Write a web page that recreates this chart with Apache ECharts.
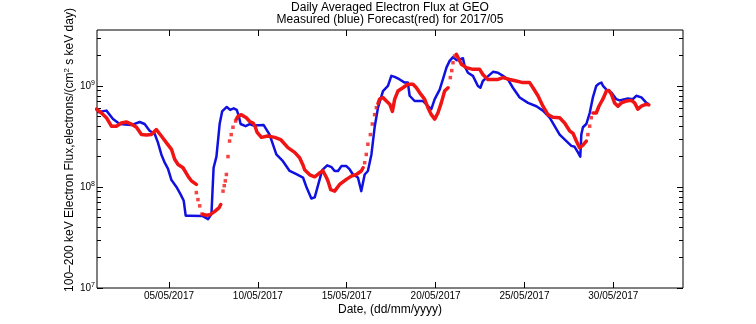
<!DOCTYPE html>
<html><head><meta charset="utf-8">
<script src="https://cdn.jsdelivr.net/npm/echarts@6/dist/echarts.min.js"></script>
<style>html,body{margin:0;padding:0;background:#fff}#c{width:756px;height:324px}</style>
</head><body><div id="c"></div>
<script>
// ---- data (day of May 2017, flux in electrons/(cm2 s keV day)) ----
const blueDays = [0.95,1.48,1.85,2.23,2.88,3.35,3.63,3.91,4.20,4.38,4.57,4.76,4.94,5.14,5.42,5.66,5.83,5.94,6.16,6.90,7.20,7.39,7.51,7.67,7.85,7.99,8.25,8.44,8.64,8.81,8.92,9.03,9.31,9.54,9.76,10.33,10.66,11.04,11.41,11.79,12.17,12.54,12.75,13.01,13.20,13.38,13.62,13.90,14.15,14.32,14.51,14.70,14.98,15.17,15.35,15.63,15.82,16.01,16.19,16.39,16.57,16.76,17.04,17.32,17.51,17.70,17.98,18.26,18.44,18.54,18.82,19.29,19.57,19.76,19.95,20.23,20.41,20.61,20.79,20.98,21.18,21.35,21.54,21.63,21.82,22.10,22.38,22.52,22.66,22.86,23.23,23.51,23.79,24.07,24.35,24.73,25.20,25.67,26.04,26.42,26.70,26.98,27.36,27.64,27.82,28.01,28.14,28.20,28.29,28.48,28.67,28.85,29.04,29.17,29.33,29.42,29.61,29.89,30.17,30.35,30.64,30.82,31.10,31.29,31.58,31.86,31.99];
const blueFlux = [5.5e8,5.7e8,4.7e8,4.2e8,4.1e8,4.4e8,4.2e8,3.6e8,3.35e8,2.75e8,2.1e8,1.74e8,1.52e8,1.17e8,1.0e8,8.4e7,7.3e7,5.2e7,5.2e7,5.15e7,4.8e7,5.4e7,1.55e8,2.0e8,4.2e8,5.6e8,6.2e8,5.8e8,6.0e8,5.8e8,5.1e8,4.2e8,4.0e8,4.2e8,4.05e8,4.1e8,3.3e8,2.1e8,1.8e8,1.44e8,1.34e8,1.24e8,9.8e7,7.7e7,7.9e7,1.03e8,1.47e8,1.64e8,1.57e8,1.44e8,1.44e8,1.61e8,1.61e8,1.49e8,1.33e8,1.24e8,9.1e7,1.33e8,1.44e8,2.1e8,3.9e8,6.1e8,8.9e8,1.0e9,1.26e9,1.23e9,1.16e9,1.08e9,1.08e9,8.0e8,7.1e8,7.1e8,6.3e8,5.9e8,7.4e8,9.2e8,1.16e9,1.52e9,1.77e9,1.93e9,1.80e9,1.83e9,1.88e9,1.58e9,1.35e9,1.26e9,1.0e9,9.6e8,1.12e9,1.21e9,1.38e9,1.35e9,1.26e9,1.16e9,9.6e8,7.7e8,6.8e8,6.3e8,5.7e8,4.85e8,4.0e8,3.3e8,2.85e8,2.55e8,2.5e8,2.2e8,2.0e8,3.3e8,3.9e8,4.2e8,5.4e8,7.7e8,1.0e9,1.05e9,1.08e9,1.0e9,9.2e8,8.6e8,7.4e8,7.2e8,7.4e8,7.5e8,7.4e8,8.0e8,7.7e8,6.8e8,6.6e8];

// forecast, dense stretches (null = break)
const redLineDays = [0.92,1.20,1.48,1.76,2.04,2.32,2.60,2.88,3.17,3.45,3.73,4.01,4.29,4.57,4.85,5.14,5.32,5.51,5.79,6.07,6.26,6.54,null,
  6.91,7.12,7.29,7.56,7.81,7.91,null,
  8.79,8.88,9.07,9.35,9.54,9.73,9.85,9.95,10.20,10.55,10.95,11.28,11.69,12.07,12.35,12.55,12.63,12.92,13.20,13.48,13.66,13.86,13.95,14.10,14.32,14.60,14.98,15.26,15.54,15.82,15.92,null,
  16.76,16.85,17.04,17.23,17.42,17.57,17.70,17.88,18.16,18.44,18.73,18.92,19.10,19.38,19.57,19.76,19.95,20.13,20.32,20.51,20.70,null,
  21.17,21.45,21.73,22.10,22.48,22.66,22.94,23.23,23.51,23.79,24.17,24.54,24.91,25.29,25.48,25.76,26.04,26.32,26.60,26.98,27.26,27.54,27.73,27.92,28.10,28.29,28.48,null,
  28.85,29.04,29.19,29.41,29.61,29.75,29.89,30.07,30.26,30.45,30.73,31.01,31.20,31.38,31.58,31.86,32.00];
const redLineFlux = [5.9e8,5.4e8,4.85e8,4.0e8,4.0e8,4.3e8,4.4e8,4.2e8,3.9e8,3.3e8,3.27e8,3.3e8,3.7e8,3.2e8,2.75e8,2.36e8,1.88e8,1.67e8,1.55e8,1.28e8,1.15e8,1.06e8,null,
  5.35e7,5.25e7,5.3e7,5.7e7,6.2e7,6.7e7,null,
  4.7e8,5.0e8,5.2e8,4.85e8,4.45e8,4.3e8,3.95e8,3.5e8,3.1e8,3.2e8,3.1e8,2.95e8,2.45e8,2.2e8,1.95e8,1.63e8,1.48e8,1.32e8,1.26e8,1.38e8,1.45e8,1.24e8,1.14e8,9.4e7,9.1e7,1.06e8,1.19e8,1.28e8,1.33e8,1.44e8,1.55e8,null,
  6.7e8,7.4e8,7.7e8,7.1e8,6.6e8,5.6e8,7.4e8,8.9e8,9.6e8,1.04e9,1.04e9,9.6e8,8.6e8,7.4e8,6.1e8,5.2e8,4.7e8,5.4e8,6.8e8,8.9e8,9.6e8,null,
  2.06e9,1.64e9,1.52e9,1.46e9,1.46e9,1.30e9,1.16e9,1.16e9,1.16e9,1.21e9,1.16e9,1.12e9,1.08e9,1.08e9,9.6e8,8.0e8,6.3e8,5.2e8,4.9e8,4.85e8,4.3e8,3.6e8,3.4e8,2.85e8,2.45e8,2.6e8,2.85e8,null,
  5.4e8,5.4e8,6.3e8,7.4e8,8.9e8,9.0e8,8.3e8,6.8e8,6.3e8,6.8e8,7.1e8,7.2e8,6.8e8,5.9e8,6.3e8,6.6e8,6.5e8];

// forecast, isolated points on the steep parts
const redDotDays = [6.54,6.63,6.73,6.86, 8.04,8.11,8.17,8.23,8.32,8.41,8.50,8.60,8.75, 16.01,16.10,16.19,16.33,16.44,16.57,16.67, 20.83,20.91,20.98,21.07, 28.57,28.67,28.76];
const redDotFlux = [8.8e7,7.5e7,6.5e7,5.4e7, 9.1e7,1.03e8,1.15e8,1.33e8,2.0e8,2.85e8,3.3e8,3.9e8,4.5e8, 1.74e8,2.1e8,2.65e8,3.3e8,4.2e8,5.2e8,6.1e8, 1.21e9,1.42e9,1.70e9,1.98e9, 3.3e8,4.0e8,4.85e8];

const xTickDays = [5,10,15,20,25,30];
const xTickLabels = ['05/05/2017','10/05/2017','15/05/2017','20/05/2017','25/05/2017','30/05/2017'];
const yTickExponents = [7,8,9];

// ---- chart ----
const L = Math.log10;
const XMIN = 0.95, XMAX = 33.92, YMIN = 7, YMAX = 9.554;
const FONT = '"Liberation Sans", Arial, Helvetica, sans-serif';
const minorY = [];
for (let e = YMIN; e <= 9; e++) for (let k = 2; k <= 9; k++) { const v = e + L(k); if (v < YMAX) minorY.push(v); }

const blueData = blueDays.map((d, i) => [d, L(blueFlux[i])]);
const redLineData = redLineDays.map((d, i) => d == null ? ['-', '-'] : [d, L(redLineFlux[i])]);
const redDotData = redDotDays.map((d, i) => [d, L(redDotFlux[i])]);

const BLUE = '#1010e0', RED = '#f01414';
const xBase = {type: 'value', min: XMIN, max: XMAX, splitLine: {show: false}, axisLine: {show: false}};
const yBase = {type: 'value', min: YMIN, max: YMAX, splitLine: {show: false}, axisLine: {show: false}};
const tick = (vals, len) => ({show: true, inside: true, length: len, customValues: vals, lineStyle: {color: '#000', width: 1}});

const chart = echarts.init(document.getElementById('c'));
chart.setOption({
  animation: false,
  backgroundColor: '#fff',
  grid: {left: 97, top: 30, width: 586, height: 258, show: true, borderColor: '#000', borderWidth: 1, backgroundColor: '#fff'},
  xAxis: [
    Object.assign({}, xBase, {position: 'bottom', axisTick: tick(xTickDays, 6),
      axisLabel: {customValues: xTickDays, formatter: v => xTickLabels[xTickDays.indexOf(v)], color: '#000', fontSize: 10, fontFamily: FONT, margin: 3}}),
    Object.assign({}, xBase, {position: 'top', axisTick: tick(xTickDays, 6), axisLabel: {show: false}})
  ],
  yAxis: [
    Object.assign({}, yBase, {position: 'left', axisTick: tick(yTickExponents, 6),
      axisLabel: {customValues: yTickExponents, formatter: v => '{b|10}{s|' + v + '}', margin: 2, color: '#000', fontFamily: FONT,
        rich: {b: {fontSize: 10, lineHeight: 12, fontFamily: FONT, color: '#000'}, s: {fontSize: 7, lineHeight: 7, verticalAlign: 'top', fontFamily: FONT, color: '#000'}}}}),
    Object.assign({}, yBase, {position: 'left', axisTick: tick(minorY, 4), axisLabel: {show: false}}),
    Object.assign({}, yBase, {position: 'right', axisTick: tick(yTickExponents, 6), axisLabel: {show: false}}),
    Object.assign({}, yBase, {position: 'right', axisTick: tick(minorY, 4), axisLabel: {show: false}})
  ],
  series: [
    {type: 'line', name: 'Measured', data: blueData, symbol: 'none', xAxisIndex: 0, yAxisIndex: 0,
      lineStyle: {color: BLUE, width: 2.5, join: 'round'}, z: 2},
    {type: 'line', name: 'Forecast', data: redLineData, symbol: 'none', connectNulls: false, xAxisIndex: 0, yAxisIndex: 0,
      lineStyle: {color: RED, width: 3.5, join: 'round', cap: 'round'}, z: 3},
    {type: 'scatter', name: 'Forecast points', data: redDotData, symbol: 'rect', symbolSize: 3.5, xAxisIndex: 0, yAxisIndex: 0,
      itemStyle: {color: RED}, z: 3}
  ],
  graphic: [
    {type: 'text', x: 390, y: 8, style: {text: 'Daily Averaged Electron Flux at GEO', fontSize: 12, fontFamily: FONT, fill: '#000', align: 'center', verticalAlign: 'middle'}},
    {type: 'text', x: 390, y: 20, style: {text: 'Measured (blue) Forecast(red) for 2017/05', fontSize: 12, fontFamily: FONT, fill: '#000', align: 'center', verticalAlign: 'middle'}},
    {type: 'text', x: 390, y: 310, style: {text: 'Date, (dd/mm/yyyy)', fontSize: 12, fontFamily: FONT, fill: '#000', align: 'center', verticalAlign: 'middle'}},
    {type: 'text', x: 70, y: 150, rotation: Math.PI / 2, style: {
      text: '{a|100–200 keV Electron Flux,electrons/(cm}{s|2}{a| s keV day)}', align: 'center', verticalAlign: 'middle', fill: '#000',
      rich: {a: {fontSize: 12, lineHeight: 14, fontFamily: FONT, fill: '#000'}, s: {fontSize: 8, lineHeight: 8, verticalAlign: 'top', fontFamily: FONT, fill: '#000'}}}}
  ]
});
</script></body></html>
